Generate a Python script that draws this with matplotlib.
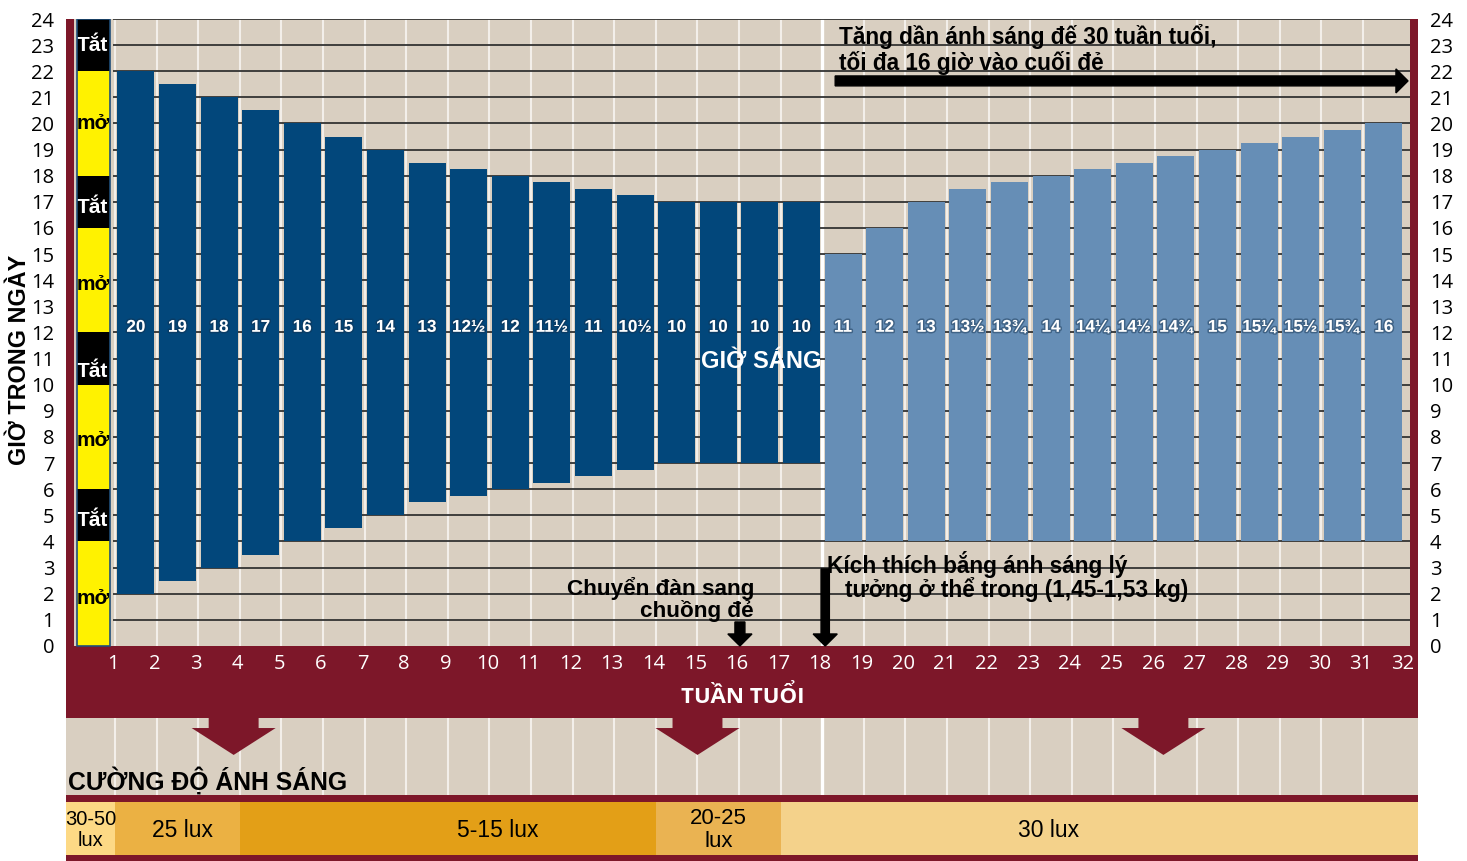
import matplotlib
matplotlib.use("Agg")
from matplotlib import pyplot as plt
from matplotlib.patches import Rectangle
import matplotlib.patheffects as pe

weeks = list(range(1, 33))

# hours of light per week: dark = rearing, light = laying house
rearing_hours = [20, 19, 18, 17, 16, 15, 14, 13, 12.5, 12, 11.5, 11, 10.5, 10, 10, 10, 10]
rearing_start = [2, 2.5, 3, 3.5, 4, 4.5, 5, 5.5, 5.75, 6, 6.25, 6.5, 6.75, 7, 7, 7, 7]
laying_hours = [11, 12, 13, 13.5, 13.75, 14, 14.25, 14.5, 14.75, 15, 15.25, 15.5, 15.75, 16]
laying_start = [4, 4, 4, 4, 4, 4, 4, 4, 4, 4, 4, 4, 4, 4]

# intermittent lighting in week 0-1
inter_from = [0, 4, 6, 10, 12, 16, 18, 22]
inter_to = [4, 6, 10, 12, 16, 18, 22, 24]
inter_state = ["mở", "Tắt", "mở", "Tắt", "mở", "Tắt", "mở", "Tắt"]
inter_text_y = [1.8, 4.8, 7.85, 10.5, 13.85, 16.8, 20.0, 23.0]

# light intensity bands
lux_from = [0, 1, 4, 14, 17]
lux_to = [1, 4, 14, 17, 32]
lux_labels = ["30-50\nlux", "25 lux", "5-15 lux", "20-25\nlux", "30 lux"]
lux_colors = ["#FDD985", "#EBB143", "#E39F17", "#EAB352", "#F4D28B"]
lux_text_x = [0.42, 2.61, 10.2, 15.5, 23.45]
lux_text_size = [14.5, 16.5, 16.5, 16, 16.5]

BEIGE = "#D9CFC1"
RED = "#7D1729"
DARK = "#02477B"
LIGHT = "#668EB6"
BOLD = ["Liberation Sans", "DejaVu Sans"]
TICK = ["Open Sans", "DejaVu Sans"]

x0, x1 = -0.18, 32.32
y0, y1 = -8.23, 24


def hlabel(h):
    whole = int(h)
    frac = {0: "", 0.25: "¼", 0.5: "½", 0.75: "¾"}[h - whole]
    return str(whole) + frac


fig = plt.figure(figsize=(14.67, 8.61), dpi=100)
ax = fig.add_axes([66 / 1467, 0, (1418 - 66) / 1467, (861 - 19) / 861])
ax.set_facecolor(BEIGE)
ax.set_xlim(x0, x1)
ax.set_ylim(y0, y1)
for s in ax.spines.values():
    s.set_visible(False)
ax.set_xticks([])
ax.set_yticks(range(0, 25))
ax.set_yticklabels([str(i) for i in range(0, 25)], family=TICK, fontsize=14.5)
ax.tick_params(axis="y", left=False, right=False, labelleft=True, labelright=True, pad=5)

# grid
for w in weeks[:-1]:
    ax.plot([w, w], [-5.70, 24], color="white" if w == 18 else "#F3EFEA",
            lw=2.4 if w == 18 else 1.5, zorder=1)
ax.hlines(range(1, 25), 0.95, 32.13, color="#333333", lw=1.3, zorder=1.5)

# bars
xr = [w + 0.5 for w in weeks[:len(rearing_hours)]]
xl = [w + 0.5 for w in weeks[len(rearing_hours):len(rearing_hours) + len(laying_hours)]]
ax.bar(xr, rearing_hours, bottom=rearing_start, width=0.89, color=DARK, zorder=2)
ax.bar(xl, laying_hours, bottom=laying_start, width=0.89, color=LIGHT, zorder=2)
shadow = [pe.withStroke(linewidth=2.2, foreground="#12304d", alpha=0.45)]
for x, h in zip(xr + xl, rearing_hours + laying_hours):
    ax.text(x, 12.2, hlabel(h), color="white", family=BOLD, fontweight="bold",
            fontsize=12.3, ha="center", va="center", zorder=5, path_effects=shadow)
ax.text(16.53, 10.9, "GIỜ SÁNG", color="white", family=BOLD, fontweight="bold",
        fontsize=17, ha="center", va="center", zorder=5)

# intermittent column
for a, b, st, ty in zip(inter_from, inter_to, inter_state, inter_text_y):
    on = st == "mở"
    ax.add_patch(Rectangle((0.08, a), 0.8, b - a, facecolor="#FFF200" if on else "black",
                           edgecolor="none", zorder=3))
    ax.text(0.08, ty, st, color="black" if on else "white", family=BOLD,
            fontweight="bold", fontsize=15, ha="left", va="center", zorder=4)
ax.add_patch(Rectangle((0.08, 0), 0.8, 24, facecolor="none", edgecolor="#1f4e79", lw=1.2, zorder=4))

# red frame pieces
ax.add_patch(Rectangle((x0, 0), 0.19, 24, facecolor=RED, edgecolor="none", zorder=3))
ax.add_patch(Rectangle((32.13, 0), x1 - 32.13, 24, facecolor=RED, edgecolor="none", zorder=3))
ax.add_patch(Rectangle((x0, -2.756), x1 - x0, 2.756, facecolor=RED, edgecolor="none", zorder=3))
ax.add_patch(Rectangle((x0, -5.97), x1 - x0, 0.27, facecolor=RED, edgecolor="none", zorder=3))
ax.add_patch(Rectangle((x0, y0), x1 - x0, 0.23, facecolor=RED, edgecolor="none", zorder=3))

for w in weeks:
    ax.text(w - 0.05, -0.69, str(w), color="white", family=TICK, fontsize=14.5,
            ha="center", va="center", zorder=4)
ax.text(16.1, -1.95, "TUẦN TUỔI", color="white", family=TICK, fontweight="bold",
        fontsize=16, ha="center", va="center", zorder=4)

# down arrows in the lower band
for c in [3.85, 15.0, 26.2]:
    ax.fill([c - 0.6, c + 0.6, c + 0.6, c + 1.01, c, c - 1.01, c - 0.6],
            [-2.756, -2.756, -3.14, -3.14, -4.17, -3.14, -3.14], color=RED, lw=0, zorder=3)

ax.text(-0.14, -5.17, "CƯỜNG ĐỘ ÁNH SÁNG", family=BOLD, fontweight="bold", fontsize=17.8,
        ha="left", va="center", zorder=4)

# lux bands
for i, (a, b, lab, col, tx, fs) in enumerate(zip(lux_from, lux_to, lux_labels, lux_colors,
                                                 lux_text_x, lux_text_size)):
    a = x0 if i == 0 else a
    b = x1 if i == len(lux_from) - 1 else b
    ax.add_patch(Rectangle((a, -8.0), b - a, 2.03, facecolor=col, edgecolor="none", zorder=3))
    ax.text(tx, -7.05, lab, family=BOLD, fontsize=fs, ha="center", va="center",
            linespacing=1.1, zorder=4)

# annotations
ax.text(18.4, 23.04, "Tăng dần ánh sáng đế 30 tuần tuổi,", family=BOLD, fontweight="bold",
        fontsize=16.3, ha="left", va="baseline", zorder=5)
ax.text(18.4, 22.05, "tối đa 16 giờ vào cuối đẻ", family=BOLD, fontweight="bold",
        fontsize=16.3, ha="left", va="baseline", zorder=5)
ax.arrow(18.31, 21.63, 32.08 - 18.31, 0, width=0.38, head_width=0.92, head_length=0.29,
         length_includes_head=True, color="black", zorder=5)

ax.text(16.36, 1.95, "Chuyển đàn sang", family=BOLD, fontweight="bold",
        fontsize=16.2, ha="right", va="baseline", zorder=5)
ax.text(16.36, 1.11, "chuồng đẻ", family=BOLD, fontweight="bold",
        fontsize=16.2, ha="right", va="baseline", zorder=5)
ax.arrow(16.02, 0.92, 0, -0.92, width=0.24, head_width=0.58, head_length=0.46,
         length_includes_head=True, color="black", zorder=5)
ax.arrow(18.07, 2.95, 0, -2.95, width=0.2, head_width=0.58, head_length=0.46,
         length_includes_head=True, color="black", zorder=5)
ax.text(18.12, 2.79, "Kích thích bắng ánh sáng lý", family=BOLD, fontweight="bold",
        fontsize=16.3, ha="left", va="baseline", zorder=5)
ax.text(18.55, 1.88, "tưởng ở thể trong (1,45-1,53 kg)", family=BOLD, fontweight="bold",
        fontsize=16.3, ha="left", va="baseline", zorder=5)

fig.text(20 / 1467, 1 - 360 / 861, "GIỜ TRONG NGÀY", rotation=90, family=BOLD,
         fontweight="bold", fontsize=16.8, ha="center", va="center")

fig.savefig("out.png", dpi=100)
